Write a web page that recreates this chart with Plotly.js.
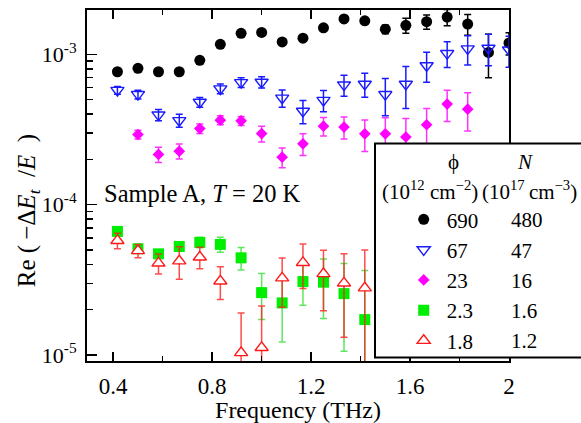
<!DOCTYPE html>
<html><head><meta charset="utf-8">
<script src="https://cdn.plot.ly/plotly-3.0.1.min.js"></script>
<style>html,body{margin:0;padding:0;background:#fff}</style>
</head><body><div id="chart" style="width:581px;height:423px"></div>
<script>
// Frequencies (THz)
const freqAll = [0.417, 0.5, 0.583, 0.667, 0.75, 0.833, 0.917, 1.0, 1.083, 1.167, 1.25, 1.333, 1.417, 1.5, 1.583, 1.667, 1.75, 1.833, 1.917, 2.0];
const freqMag = [0.5, 0.583, 0.667, 0.75, 0.833, 0.917, 1.0, 1.083, 1.167, 1.25, 1.333, 1.417, 1.5, 1.583, 1.667, 1.75, 1.833];
const freqLow = [0.417, 0.5, 0.583, 0.667, 0.75, 0.833, 0.917, 1.0, 1.083, 1.167, 1.25, 1.333, 1.417];

// phi = 690, N = 480
const s690 = [7.66e-4, 8.07e-4, 7.66e-4, 7.66e-4, 9.12e-4, 1.166e-3, 1.38e-3, 1.40e-3, 1.21e-3, 1.28e-3, 1.50e-3, 1.72e-3, 1.67e-3, 1.47e-3, 1.56e-3, 1.65e-3, 1.77e-3, 1.59e-3, 1.03e-3, 1.19e-3];
const e690 = [0.03e-3, 0.03e-3, 0.03e-3, 0.03e-3, 0.03e-3, 0.03e-3, 0.03e-3, 0.03e-3, 0.03e-3, 0.03e-3, 0.03e-3, 0.03e-3, 0.04e-3, 0.10e-3, 0.18e-3, 0.18e-3, 0.22e-3, 0.25e-3, 0.33e-3, 0.2e-3];
// phi = 67, N = 47
const s67 = [5.77e-4, 5.41e-4, 3.96e-4, 3.63e-4, 4.81e-4, 5.90e-4, 6.50e-4, 6.53e-4, 5.12e-4, 4.19e-4, 4.95e-4, 6.27e-4, 6.34e-4, 5.41e-4, 6.34e-4, 8.41e-4, 1.014e-3, 1.09e-3, 1.10e-3, 1.07e-3];
const e67 = [0.35e-4, 0.37e-4, 0.34e-4, 0.36e-4, 0.36e-4, 0.44e-4, 0.49e-4, 0.56e-4, 0.67e-4, 0.74e-4, 0.8e-4, 1.0e-4, 1.16e-4, 1.5e-4, 1.97e-4, 1.9e-4, 1.97e-4, 2.4e-4, 2.6e-4, 2.5e-4];
// phi = 23, N = 16
const s23 = [2.93e-4, 2.16e-4, 2.27e-4, 3.21e-4, 3.65e-4, 3.61e-4, 2.97e-4, 2.07e-4, 2.54e-4, 3.33e-4, 3.28e-4, 2.96e-4, 2.96e-4, 2.82e-4, 3.40e-4, 4.67e-4, 4.32e-4];
const e23 = [0.2e-4, 0.25e-4, 0.26e-4, 0.23e-4, 0.25e-4, 0.25e-4, 0.36e-4, 0.31e-4, 0.42e-4, 0.47e-4, 0.55e-4, 0.7e-4, 0.82e-4, 0.92e-4, 0.96e-4, 1.1e-4, 1.23e-4];
// phi = 2.3, N = 1.6
const s2p3 = [6.64e-5, 5.09e-5, 4.71e-5, 5.27e-5, 5.61e-5, 5.44e-5, 4.43e-5, 2.60e-5, 2.22e-5, 3.08e-5, 3.05e-5, 2.56e-5, 1.72e-5];
const e2p3 = [0.3e-5, 0.3e-5, 0.3e-5, 0.35e-5, 0.45e-5, 0.62e-5, 0.76e-5, 0.88e-5, 1.0e-5, 0.94e-5, 1.3e-5, 1.5e-5, 1.93e-5];
// phi = 1.8, N = 1.2
const s1p8 = [5.77e-5, 4.94e-5, 4.08e-5, 4.22e-5, 4.48e-5, 3.10e-5, 1.035e-5, 1.12e-5, 3.25e-5, 4.12e-5, 3.47e-5, 3.01e-5, 2.79e-5];
const e1p8 = [0.68e-5, 0.5e-5, 0.62e-5, 1.03e-5, 0.73e-5, 0.76e-5, 0.87e-5, 1.0e-5, 1.17e-5, 1.35e-5, 1.5e-5, 1.7e-5, 2.2e-5];

// Legend table
const phiLabels = ['690', '67', '23', '2.3', '1.8'];
const nLabels = ['480', '47', '16', '1.6', '1.2'];

// Axis ticks
const xTickVals = [0.4, 0.8, 1.2, 1.6, 2.0];
const xTickText = ['0.4', '0.8', '1.2', '1.6', '2'];
const xMinorVals = [0.6, 1.0, 1.4, 1.8];
const yTickVals = [1e-5, 1e-4, 1e-3];
const yTickText = ['10<sup>-5</sup>', '10<sup>-4</sup>', '10<sup>-3</sup>'];
const yMinorVals = [2e-5,3e-5,4e-5,5e-5,6e-5,7e-5,8e-5,9e-5,2e-4,3e-4,4e-4,5e-4,6e-4,7e-4,8e-4,9e-4];

const FONT = 'Liberation Serif, Times New Roman, serif';

function mk(x, y, err, name, symbol, color, size, lineColor, lineW, errColor) {
  return {
    type: 'scatter', mode: 'markers', x: x, y: y, name: name,
    marker: {symbol: symbol, size: size, color: color, line: {color: lineColor, width: lineW}},
    error_y: {type: 'data', array: err, visible: true, color: errColor, thickness: 1.5, width: 3.5},
    cliponaxis: true
  };
}

const traces = [
  mk(freqAll, s690, e690, phiLabels[0], 'circle', '#000000', 11, '#000000', 0, '#000000'),
  mk(freqAll, s67, e67, phiLabels[1], 'triangle-down-open', '#1a1aff', 11.5, '#1a1aff', 1.4, '#1a1aff'),
  mk(freqMag, s23, e23, phiLabels[2], 'diamond', '#ff00ff', 9, '#ff00ff', 0, '#ff33ff'),
  mk(freqLow, s2p3, e2p3, phiLabels[3], 'square', '#00ee00', 11, '#00ee00', 0, 'rgba(40,220,40,0.75)'),
  mk(freqLow, s1p8, e1p8, phiLabels[4], 'triangle-up', '#ffffff', 11.5, '#ff1a1a', 1.4, 'rgba(255,30,30,0.8)')
];

// plot area: left 87, right 509, top 10, bottom 360.7 (px)
const L = 87, R = 509, T = 10, B = 360.7, W = 581, H = 423;
const px = v => (v - L) / (R - L);
const py = v => (B - v) / (B - T);

const annots = [
  {xref:'paper', yref:'paper', x: px(102), y: py(193), xanchor:'left', yanchor:'middle', showarrow:false,
   text:'Sample A, <i>T</i> = 20 K', font:{family:FONT, size:24.5, color:'#000'}},
  {xref:'paper', yref:'paper', x: px(28), y: py(211), xanchor:'center', yanchor:'middle', showarrow:false, textangle:-90,
   text:'Re (\u2009−Δ<i>E</i><sub><i>t</i></sub>\u2002/<i>E</i>\u2002)', font:{family:FONT, size:25, color:'#000'}},
  {xref:'paper', yref:'paper', x: px(453.3), y: py(162), xanchor:'center', yanchor:'middle', showarrow:false,
   text:'ϕ', font:{family:FONT, size:21, color:'#000'}},
  {xref:'paper', yref:'paper', x: px(525), y: py(162), xanchor:'center', yanchor:'middle', showarrow:false,
   text:'<i>N</i>', font:{family:FONT, size:21, color:'#000'}},
  {xref:'paper', yref:'paper', x: px(429.5), y: py(190), xanchor:'center', yanchor:'middle', showarrow:false,
   text:'(10<sup>12</sup> cm<sup>−2</sup>)', font:{family:FONT, size:21, color:'#000'}},
  {xref:'paper', yref:'paper', x: px(529), y: py(190), xanchor:'center', yanchor:'middle', showarrow:false,
   text:'(10<sup>17</sup>\u2009cm<sup>−3</sup>)', font:{family:FONT, size:21, color:'#000'}}
];
const rowY = [220, 250.7, 280.7, 310.7, 340.7];
nLabels.forEach((t, i) => annots.push({xref:'paper', yref:'paper', x: px(509), y: py(rowY[i]), xanchor:'left', yanchor:'middle',
  showarrow:false, text:t, font:{family:FONT, size:21, color:'#000'}}));

const layout = {
  width: W, height: H,
  margin: {l: L, r: W - R, t: T, b: H - B},
  paper_bgcolor: '#fff', plot_bgcolor: '#fff',
  font: {family: FONT, color: '#000'},
  showlegend: true,
  legend: {x: px(400.7), y: py(199), xanchor:'left', yanchor:'top', bgcolor:'rgba(0,0,0,0)', borderwidth:0,
    itemwidth: 36, font:{family:FONT, size:21, color:'#000'}},
  xaxis: {
    range: [0.294, 2.0], tickmode:'array', tickvals: xTickVals, ticktext: xTickText,
    ticks:'inside', ticklen: 9, tickwidth: 1.5, tickcolor:'#000',
    minor: {tickmode:'array', tickvals: xMinorVals, ticks:'inside', ticklen: 5, tickwidth: 1.5, tickcolor:'#000'},
    showline: true, linewidth: 2, linecolor:'#000', mirror:'ticks', showgrid:false, zeroline:false,
    tickfont: {family: FONT, size: 23, color:'#000'}, ticklabelstandoff: 3,
    title: {text:'Frequency (THz)', font:{family:FONT, size:24, color:'#000'}, standoff: 9}
  },
  yaxis: {
    type:'log', range: [-5.04, -2.705], tickmode:'array', tickvals: yTickVals, ticktext: yTickText,
    ticks:'inside', ticklen: 10, tickwidth: 1.5, tickcolor:'#000',
    minor: {tickmode:'array', tickvals: yMinorVals, ticks:'inside', ticklen: 6, tickwidth: 1.5, tickcolor:'#000'},
    showline: true, linewidth: 2, linecolor:'#000', mirror: true, showgrid:false, zeroline:false,
    tickfont: {family: FONT, size: 22, color:'#000'}, ticklabelstandoff: 4
  },
  shapes: [
    {type:'rect', xref:'paper', yref:'paper', layer:'above', x0: px(375), x1: px(600), y0: py(357.3), y1: py(143.3),
     fillcolor:'#ffffff', line:{color:'#000', width:2}}
  ],
  annotations: annots
};

Plotly.newPlot('chart', traces, layout, {staticPlot: true, displayModeBar: false});
</script></body></html>
